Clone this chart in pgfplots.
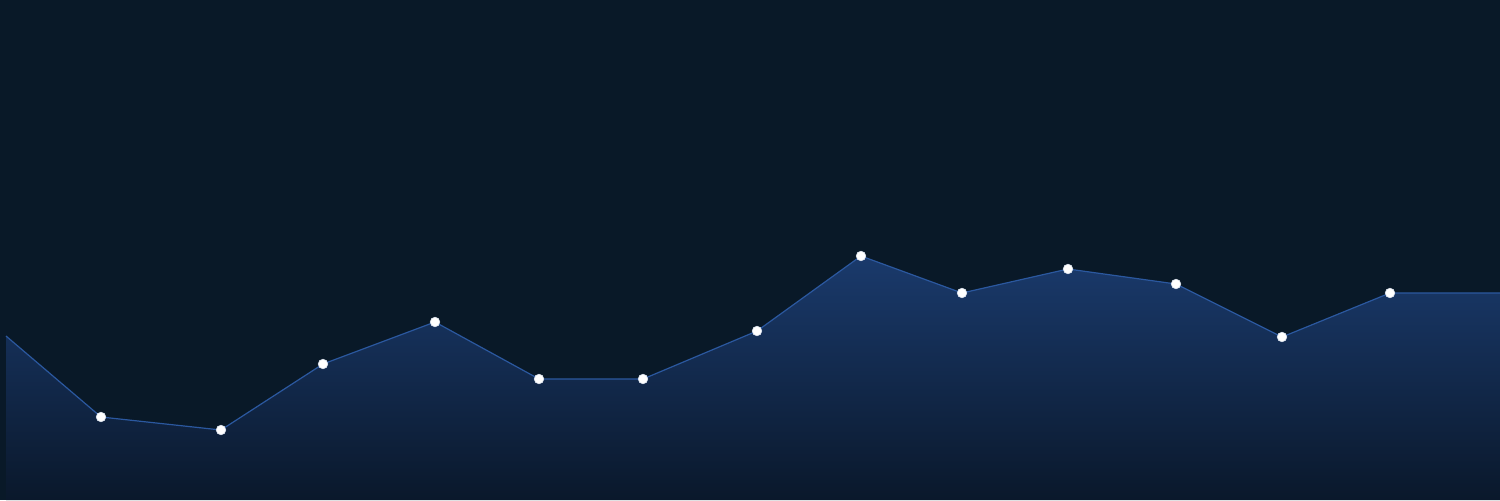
\documentclass[border=0pt]{standalone}
\usepackage{pgfplots}
\pgfplotsset{compat=1.18}
\definecolor{bgdark}{HTML}{091928}
\definecolor{areatop}{HTML}{1A3A6C}
\definecolor{areabot}{HTML}{0A182B}
\definecolor{linecol}{HTML}{2B589F}
\pgfplotstableread{
x y
6 164
101 83
221 70
323 136
435 178
539 121
643 121
757 169
861 244
962 207
1068 231
1176 216
1282 163
1390 207
1500 207
}\series
\begin{document}
\begin{tikzpicture}
\begin{axis}[
  width=750pt, height=250pt,
  scale only axis,
  xmin=0, xmax=1500,
  ymin=0, ymax=500,
  hide axis,
]
\fill[bgdark] (rel axis cs:0,0) rectangle (rel axis cs:1,1);
\addplot[draw=none, top color=areatop, bottom color=areabot] table {\series} \closedcycle;
\addplot[linecol, line width=0.6pt, mark=*, mark size=2.4pt,
  mark options={fill=white, draw=white!85!linecol, line width=0.3pt},
  mark indices={2,3,...,14}] table {\series};
\end{axis}
\end{tikzpicture}
\end{document}
